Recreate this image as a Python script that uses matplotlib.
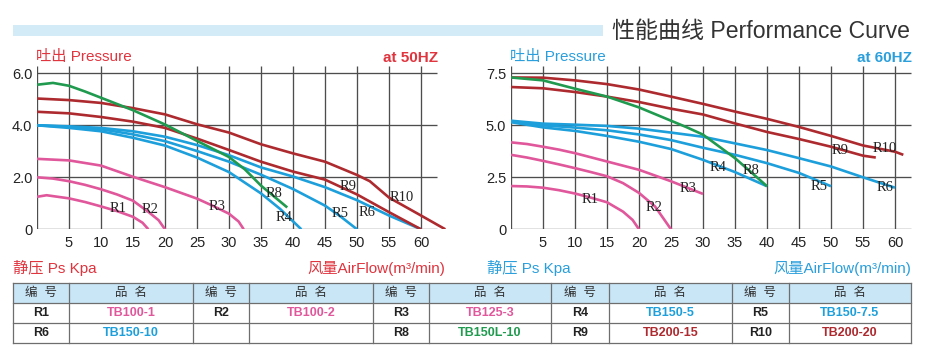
import matplotlib
matplotlib.use("Agg")
import matplotlib.pyplot as plt
from matplotlib import font_manager as fm
from matplotlib.patches import Rectangle

# ---- data ----
xticks = [5, 10, 15, 20, 25, 30, 35, 40, 45, 50, 55, 60]
yticks50 = [0, 2, 4, 6]
ylabels50 = ['0', '2.0', '4.0', '6.0']
yticks60 = [0, 2.5, 5, 7.5]
ylabels60 = ['0', '2.5', '5.0', '7.5']

# 50 Hz curves (airflow m3/min, pressure kPa)
R1_50 = ([0, 1.5, 5, 7.5, 10, 12.5, 15, 16.5, 17.4], [1.25, 1.31, 1.19, 1.05, 0.88, 0.7, 0.48, 0.25, 0])
R2_50 = ([0, 2.5, 5, 7.5, 10, 12.5, 15, 17.5, 19, 20], [2.0, 1.95, 1.85, 1.71, 1.54, 1.34, 1.1, 0.65, 0.35, 0])
R3_50 = ([0, 5, 10, 15, 20, 25, 27.5, 30, 31.5, 32.3], [2.71, 2.65, 2.45, 2.02, 1.62, 1.18, 0.9, 0.6, 0.3, 0])
R4_50 = ([0, 5, 10, 15, 20, 25, 30, 35, 38, 41.3], [4.0, 3.9, 3.77, 3.52, 3.22, 2.76, 2.2, 1.38, 0.78, 0])
R5_50 = ([0, 5, 10, 15, 20, 25, 30, 35, 40, 45, 47.5, 50], [4.0, 3.94, 3.85, 3.65, 3.39, 3.01, 2.6, 2.1, 1.55, 0.91, 0.48, 0])
R6_50 = ([0, 5, 10, 15, 20, 25, 30, 35, 40, 45, 50, 55, 60], [4.0, 3.96, 3.9, 3.77, 3.56, 3.24, 2.85, 2.38, 2.03, 1.62, 1.12, 0.53, 0])
R8_50 = ([0, 2.5, 5, 7.5, 10, 15, 20, 25, 30, 32.5, 35, 39.1], [5.56, 5.63, 5.52, 5.3, 5.06, 4.58, 4.03, 3.4, 2.78, 2.3, 1.68, 0.84])
R9_50 = ([0, 5, 10, 15, 20, 25, 30, 35, 40, 45, 50, 55, 60], [4.52, 4.46, 4.32, 4.14, 3.9, 3.49, 3.05, 2.6, 2.22, 1.91, 1.34, 0.66, 0])
R10_50 = ([0, 5, 10, 15, 20, 25, 30, 35, 40, 45, 50, 52, 55, 60, 63.8], [5.03, 4.97, 4.86, 4.66, 4.42, 4.04, 3.72, 3.27, 2.92, 2.6, 2.09, 1.85, 1.22, 0.53, 0])

# 60 Hz curves
R1_60 = ([0, 2.5, 5, 7.5, 10, 12.5, 15, 17.5, 19, 20], [2.08, 2.06, 2.0, 1.88, 1.72, 1.52, 1.3, 0.85, 0.45, 0])
R2_60 = ([0, 2.5, 5, 7.5, 10, 12.5, 15, 17.5, 20, 22.5, 25], [3.58, 3.45, 3.29, 3.12, 2.94, 2.75, 2.55, 2.22, 1.75, 1.1, 0])
R3_60 = ([0, 2.5, 5, 7.5, 10, 15, 20, 25, 30], [4.18, 4.1, 3.97, 3.83, 3.66, 3.26, 2.86, 2.31, 1.7])
R4_60 = ([0, 5, 10, 15, 20, 25, 30, 35, 40], [5.15, 4.9, 4.73, 4.49, 4.21, 3.86, 3.34, 2.75, 2.07])
R5_60 = ([0, 5, 10, 15, 20, 25, 30, 35, 40, 45, 50], [5.2, 5.0, 4.89, 4.76, 4.56, 4.29, 3.92, 3.58, 3.18, 2.71, 2.07])
R6_60 = ([0, 5, 10, 15, 20, 25, 30, 35, 40, 45, 50, 55, 60], [5.22, 5.08, 5.03, 4.97, 4.84, 4.65, 4.45, 4.13, 3.81, 3.42, 3.02, 2.5, 2.0])
R8_60 = ([0, 5, 10, 15, 20, 25, 27.5, 30, 35, 37.5, 40], [7.3, 7.16, 6.76, 6.38, 5.86, 5.22, 4.9, 4.55, 3.42, 2.75, 2.07])
R9_60 = ([0, 5, 10, 15, 20, 25, 30, 35, 40, 45, 50, 55, 57], [6.84, 6.78, 6.6, 6.38, 6.12, 5.8, 5.52, 5.09, 4.68, 4.34, 3.97, 3.54, 3.45])
R10_60 = ([0, 5, 10, 15, 20, 25, 30, 35, 40, 45, 50, 55, 60, 61.3], [7.3, 7.29, 7.16, 6.98, 6.72, 6.38, 6.03, 5.66, 5.31, 4.92, 4.49, 4.03, 3.73, 3.58])

# table
codes_row1 = ['R1', 'R2', 'R3', 'R4', 'R5']
names_row1 = ['TB100-1', 'TB100-2', 'TB125-3', 'TB150-5', 'TB150-7.5']
codes_row2 = ['R6', '', 'R8', 'R9', 'R10']
names_row2 = ['TB150-10', '', 'TB150L-10', 'TB200-15', 'TB200-20']

# ---- styling ----
fontnames = {f.name for f in fm.fontManager.ttflist}
SANS = ['Liberation Sans', 'Noto Sans CJK SC', 'DejaVu Sans']
if 'Liberation Sans Narrow' in fontnames:
    NARROW, TICK_SIZE = ['Liberation Sans Narrow'], 12.5
else:
    NARROW, TICK_SIZE = ['Liberation Sans'], 10.5
SERIF = ['Liberation Serif', 'DejaVu Serif']
plt.rcParams['font.family'] = SANS

PINK = '#e0579b'
BLUE = '#1d9fdb'
GREEN = '#1f9a4e'
DRED = '#ad2a2f'
RED_TXT = '#e0343e'
BLUE_TXT = '#2a9fdc'
GRID = '#4d4d4d'

col = {'R1': PINK, 'R2': PINK, 'R3': PINK, 'R4': BLUE, 'R5': BLUE, 'R6': BLUE,
       'R8': GREEN, 'R9': DRED, 'R10': DRED}
order = ['R1', 'R2', 'R3', 'R4', 'R5', 'R6', 'R9', 'R10', 'R8']
curves50 = {'R1': R1_50, 'R2': R2_50, 'R3': R3_50, 'R4': R4_50, 'R5': R5_50,
            'R6': R6_50, 'R8': R8_50, 'R9': R9_50, 'R10': R10_50}
curves60 = {'R1': R1_60, 'R2': R2_60, 'R3': R3_60, 'R4': R4_60, 'R5': R5_60,
            'R6': R6_60, 'R8': R8_60, 'R9': R9_60, 'R10': R10_60}
label_pos50 = {'R1': (12.6, 0.8), 'R2': (17.7, 0.76), 'R3': (28.1, 0.87), 'R8': (37.1, 1.37),
               'R4': (38.6, 0.45), 'R5': (47.3, 0.6), 'R6': (51.6, 0.66), 'R9': (48.6, 1.66),
               'R10': (57.0, 1.22)}
label_pos60 = {'R1': (12.4, 1.45), 'R2': (22.4, 1.05), 'R3': (27.7, 1.96), 'R4': (32.4, 2.96),
               'R8': (37.5, 2.85), 'R5': (48.2, 2.07), 'R6': (58.4, 2.02), 'R9': (51.4, 3.8),
               'R10': (58.4, 3.87)}

W, H = 926, 357
fig = plt.figure(figsize=(W / 100, H / 100), dpi=100)

# background overlay in pixel coords
bg = fig.add_axes([0, 0, 1, 1])
bg.set_xlim(0, W)
bg.set_ylim(H, 0)
bg.axis('off')

bg.add_patch(Rectangle((13, 25), 590, 11, facecolor='#d3eaf7', edgecolor='none'))
bg.text(612, 31, '性能曲线 Performance Curve', fontsize=16.6, color='#333333',
        ha='left', va='center')


def make_chart(x0px, curves, labels, yticks, ylabels, ymax, hz, tcol, flow_dx):
    px_per_x = 6.4
    ax = fig.add_axes([x0px / W, (H - 229.3) / H, 64 * px_per_x / W, 163.8 / H])
    ax.set_xlim(0, 64)
    ax.set_ylim(0, ymax)
    for s in ax.spines.values():
        s.set_visible(False)
    ax.vlines([0] + xticks, 0, ymax, color=GRID, lw=0.95, zorder=1)
    ax.hlines(yticks, 0, 62.5, color=GRID, lw=0.95, zorder=1)
    for k in order:
        xs, ys = curves[k]
        ax.plot(xs, ys, color=col[k], lw=1.9, solid_capstyle='butt', zorder=3)
    for k, (lx, ly) in labels.items():
        ax.text(lx, ly, k, fontsize=10.5, family=SERIF, color='#222222',
                ha='center', va='center', zorder=4)
    ax.set_xticks(xticks)
    ax.set_xticklabels([str(t) for t in xticks], family=NARROW, fontsize=TICK_SIZE, color='#222222')
    ax.set_yticks(yticks)
    ax.set_yticklabels(ylabels, family=NARROW, fontsize=TICK_SIZE, color='#222222')
    ax.tick_params(axis='x', length=0, pad=5)
    ax.tick_params(axis='y', length=0, pad=3.5)

    right = x0px + 62.5 * px_per_x
    bg.text(x0px - 1, 57, '吐出 Pressure', fontsize=11, color=tcol, ha='left', va='center')
    bg.text(right + 1, 58, 'at %dHZ' % hz, fontsize=11, fontweight='bold', color=tcol,
            ha='right', va='center')
    bg.text(x0px - 24, 268, '静压 Ps Kpa', fontsize=11, color=tcol, ha='left', va='center')
    bg.text(right + flow_dx, 268, '风量AirFlow(m³/min)', fontsize=11, color=tcol,
            ha='right', va='center')
    return ax


make_chart(37, curves50, label_pos50, yticks50, ylabels50, 6.3, 50, RED_TXT, 8)
make_chart(511, curves60, label_pos60, yticks60, ylabels60, 6.3 * 1.25, 60, BLUE_TXT, 0)

# ---- table ----
xb = [13, 69, 193, 249, 373, 429, 551, 609, 732, 789, 911]
yb = [283.3, 303.3, 323.3, 343.3]
bg.add_patch(Rectangle((xb[0], yb[0]), xb[-1] - xb[0], yb[1] - yb[0],
                       facecolor='#c9e6f7', edgecolor='none'))
for y in yb:
    bg.plot([xb[0], xb[-1]], [y, y], color='#6e6e6e', lw=0.9)
for x in xb:
    bg.plot([x, x], [yb[0], yb[-1]], color='#6e6e6e', lw=0.9)

for i in range(5):
    cx_code = (xb[2 * i] + xb[2 * i + 1]) / 2
    cx_name = (xb[2 * i + 1] + xb[2 * i + 2]) / 2
    bg.text(cx_code, (yb[0] + yb[1]) / 2, '编  号', fontsize=9, color='#333333',
            ha='center', va='center')
    bg.text(cx_name, (yb[0] + yb[1]) / 2, '品  名', fontsize=9, color='#333333',
            ha='center', va='center')
    for r, (codes, names) in enumerate([(codes_row1, names_row1), (codes_row2, names_row2)]):
        cy = (yb[r + 1] + yb[r + 2]) / 2
        if codes[i]:
            bg.text(cx_code, cy, codes[i], fontsize=9, fontweight='bold', color='#222222',
                    ha='center', va='center')
            bg.text(cx_name, cy, names[i], fontsize=9, fontweight='bold', color=col[codes[i]],
                    ha='center', va='center')

fig.savefig('out.png', dpi=100)
